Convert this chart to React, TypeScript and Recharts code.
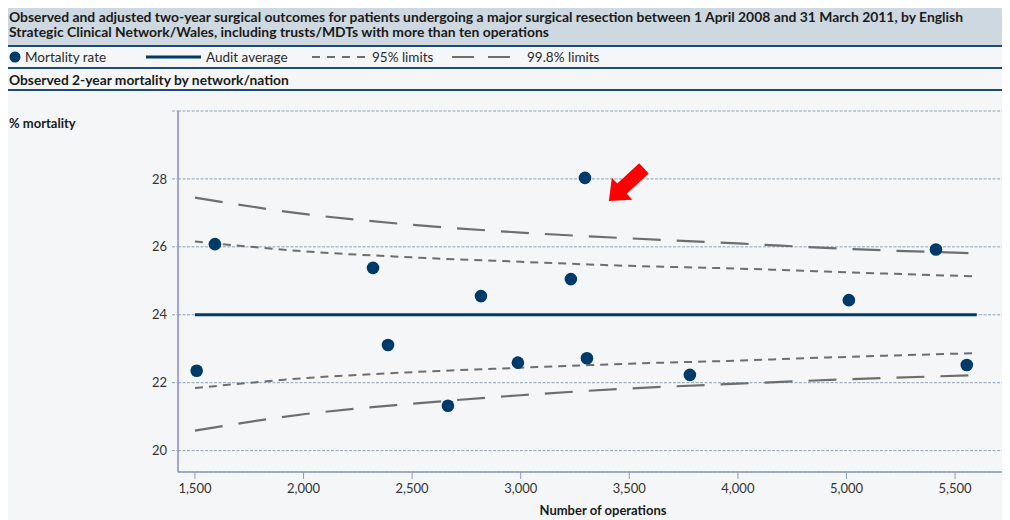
import React from "react";
import {
  ComposedChart,
  Line,
  Scatter,
  XAxis,
  YAxis,
  CartesianGrid,
  Label,
  ReferenceDot,
} from "recharts";

// Networks/nations: operations count and observed 2-year mortality (%)
const networkOps = [1508, 1592, 2320, 2389, 2665, 2817, 2987, 3231, 3296, 3305, 3779, 4511, 4912, 5054];
const mortalityRate = [22.35, 26.08, 25.38, 23.11, 21.32, 24.55, 22.59, 25.05, 28.03, 22.72, 22.23, 24.43, 25.92, 22.52];

// Funnel limits around the audit average
const limitOps = [1500, 2000, 2500, 3000, 3500, 4000, 4500, 5100];
const auditAverage = [24, 24, 24, 24, 24, 24, 24, 24];
const upper95 = [26.16, 25.87, 25.69, 25.56, 25.44, 25.36, 25.25, 25.13];
const lower95 = [21.84, 22.13, 22.31, 22.44, 22.56, 22.65, 22.76, 22.87];
const upper998 = [27.45, 26.97, 26.65, 26.42, 26.25, 26.1, 25.94, 25.81];
const lower998 = [20.59, 21.07, 21.38, 21.63, 21.83, 21.97, 22.1, 22.22];

const xTicks = [1500, 2000, 2500, 3000, 3500, 4000, 4500, 5000];
const xTickLabels = ["1,500", "2,000", "2,500", "3,000", "3,500", "4,000", "5,000", "5,500"];
const yTicks = [20, 22, 24, 26, 28, 30];

// Highlighted outlier annotation
const arrowTip = { ops: 3406, rate: 27.35 };

const points = networkOps.map((x, i) => ({ x, y: mortalityRate[i] }));
const limitRows = limitOps.map((x, i) => ({
  x,
  avg: auditAverage[i],
  up95: upper95[i],
  lo95: lower95[i],
  up998: upper998[i],
  lo998: lower998[i],
}));

const FONT = "Lato, 'Open Sans', 'DejaVu Sans', sans-serif";
const NAVY = "#003a68";
const RULE = "#1d4b76";
const LIMIT_GREY = "#6e6e6e";
const GRID = "#8fa3b9";

const Dot = (p: any) => <circle cx={p.cx} cy={p.cy} r={6.3} fill={NAVY} />;

const Arrow = (p: any) => (
  <polygon
    transform={`translate(${p.cx},${p.cy}) rotate(-43)`}
    points="0,0 18,-15 18,-7 48,-7 48,7 18,7 18,15"
    fill="#ff0000"
  />
);

const legendText: React.CSSProperties = { fontSize: 13.5, color: "#2a2a2a" };

export default function App() {
  return (
    <div
      style={{
        position: "relative",
        width: 1002,
        height: 512,
        background: "#f4f6f8",
        fontFamily: FONT,
        color: "#1a1a1a",
        overflow: "hidden",
      }}
    >
      <div
        style={{
          height: 39,
          background: "#cdd8e0",
          borderBottom: `2px solid ${RULE}`,
          boxSizing: "border-box",
          padding: "1px 0 0 1px",
          fontWeight: 700,
          fontSize: 13.9,
          lineHeight: "15px",
        }}
      >
        Observed and adjusted two-year surgical outcomes for patients undergoing a major surgical resection between 1 April 2008 and 31 March 2011, by English
        <br />
        Strategic Clinical Network/Wales, including trusts/MDTs with more than ten operations
      </div>
      <div
        style={{
          height: 22,
          borderBottom: `2px solid ${RULE}`,
          boxSizing: "border-box",
          display: "flex",
          alignItems: "center",
          paddingLeft: 1,
        }}
      >
        <svg width={16} height={12}>
          <circle cx={6} cy={6} r={5.5} fill={NAVY} />
        </svg>
        <span style={{ ...legendText, width: 121, display: "inline-block" }}>Mortality rate</span>
        <svg width={60} height={8}>
          <line x1={0} y1={4} x2={55} y2={4} stroke={NAVY} strokeWidth={3} />
        </svg>
        <span style={{ ...legendText, width: 106, display: "inline-block" }}>Audit average</span>
        <svg width={60} height={8}>
          <line x1={0} y1={4} x2={56} y2={4} stroke={LIMIT_GREY} strokeWidth={2.2} strokeDasharray="8 7" />
        </svg>
        <span style={{ ...legendText, width: 80, display: "inline-block" }}>95% limits</span>
        <svg width={75} height={8}>
          <line x1={0} y1={4} x2={68} y2={4} stroke={LIMIT_GREY} strokeWidth={2.2} strokeDasharray="22 14" />
        </svg>
        <span style={legendText}>99.8% limits</span>
      </div>
      <div
        style={{
          height: 22,
          borderBottom: `2px solid ${RULE}`,
          boxSizing: "border-box",
          display: "flex",
          alignItems: "center",
          paddingLeft: 1,
          fontWeight: 700,
          fontSize: 13.8,
        }}
      >
        Observed 2-year mortality by network/nation
      </div>
      <div
        style={{
          position: "absolute",
          left: 1,
          top: 107,
          fontWeight: 700,
          fontSize: 13,
        }}
      >
        % mortality
      </div>
      <ComposedChart
        width={1002}
        height={429}
        data={limitRows}
        margin={{ top: 20, right: 0, bottom: 0, left: 0 }}
      >
        <CartesianGrid vertical={false} stroke={GRID} strokeDasharray="3 1.5" />
        <XAxis
          type="number"
          dataKey="x"
          domain={[1422, 5253]}
          ticks={xTicks}
          tickFormatter={(v: number) => xTickLabels[xTicks.indexOf(v)]}
          allowDataOverflow
          height={48}
          tickSize={7}
          tickMargin={5}
          axisLine={{ stroke: "#8d9eb6", strokeWidth: 1.5 }}
          tickLine={{ stroke: "#8d9eb6" }}
          tick={{ fill: "#333", fontSize: 13, fontFamily: FONT }}
        >
          <Label
            value="Number of operations"
            position="insideBottom"
            offset={5}
            dx={9}
            style={{ fontWeight: 700, fill: "#1a1a1a", fontSize: 13, fontFamily: FONT }}
          />
        </XAxis>
        <YAxis
          type="number"
          domain={[19.37, 30]}
          ticks={yTicks}
          tickFormatter={(v: number) => (v === 30 ? "" : String(v))}
          allowDataOverflow
          width={170}
          tickSize={6}
          tickMargin={5}
          axisLine={{ stroke: "#8a8ad0", strokeWidth: 1.5 }}
          tickLine={{ stroke: GRID, strokeDasharray: "3 1.5" }}
          tick={{ fill: "#333", fontSize: 13, fontFamily: FONT }}
        />
        <Line dataKey="up998" type="monotone" stroke={LIMIT_GREY} strokeWidth={2.2} strokeDasharray="28 16" dot={false} isAnimationActive={false} />
        <Line dataKey="lo998" type="monotone" stroke={LIMIT_GREY} strokeWidth={2.2} strokeDasharray="28 16" dot={false} isAnimationActive={false} />
        <Line dataKey="up95" type="monotone" stroke={LIMIT_GREY} strokeWidth={2} strokeDasharray="8 6" dot={false} isAnimationActive={false} />
        <Line dataKey="lo95" type="monotone" stroke={LIMIT_GREY} strokeWidth={2} strokeDasharray="8 6" dot={false} isAnimationActive={false} />
        <Line dataKey="avg" type="linear" stroke={NAVY} strokeWidth={3} dot={false} isAnimationActive={false} />
        <Scatter data={points} dataKey="y" shape={Dot} isAnimationActive={false} />
        <ReferenceDot x={arrowTip.ops} y={arrowTip.rate} shape={Arrow} ifOverflow="visible" />
      </ComposedChart>
    </div>
  );
}
